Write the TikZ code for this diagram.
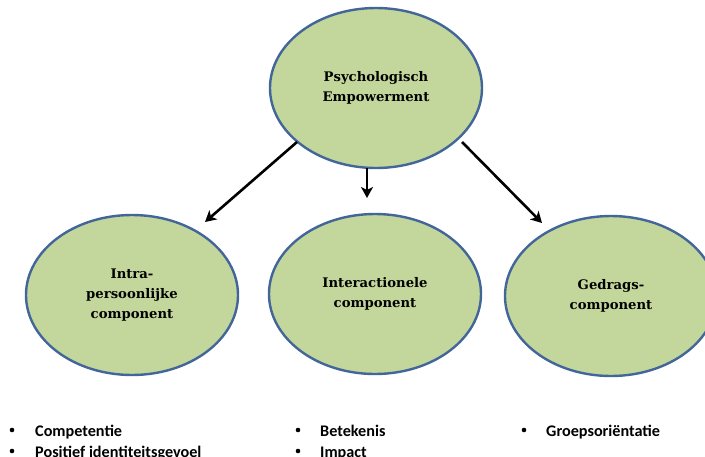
\documentclass[tikz,border=0pt]{standalone}
\usepackage{fontspec}
\setmainfont{DejaVu Serif}
\newfontfamily\bulletfont{Carlito}
\usetikzlibrary{shapes.geometric,arrows.meta}
\definecolor{ellfill}{HTML}{C3D69B}
\definecolor{elldraw}{HTML}{43669A}
\tikzset{
  ell/.style={ellipse, draw=elldraw, line width=2.4pt, fill=ellfill, inner sep=0pt,
    minimum width=212pt, minimum height=160pt,
    font=\fontsize{13.2}{20}\selectfont\bfseries, align=center},
  conn/.style={line width=2.6pt, -{Stealth[length=11pt,width=12pt,inset=3pt]}},
  bultext/.style={anchor=base west, inner sep=0pt, font=\bulletfont\fontsize{16.2}{20}\selectfont\bfseries},
  buldot/.style={circle, fill=black, inner sep=0pt, minimum size=4.6pt}
}
\begin{document}
\begin{tikzpicture}[x=1pt,y=-1pt]
\useasboundingbox (0,0) rectangle (705,456);
\clip (0,0) rectangle (705,456);
\fill[white] (0,0) rectangle (705,456);
\node[ell] (top) at (376,88) {Psychologisch\\Empowerment};
\node[ell] (left) at (132,295) {Intra-\\persoonlijke\\component};
\node[ell] (mid) at (375,294) {Interactionele\\component};
\node[ell] (right) at (611,296) {Gedrags-\\component};
\coordinate (la) at (297,142);
\coordinate (lb) at (205,222);
\coordinate (ma) at (367,168);
\coordinate (mb) at (367,198);
\coordinate (ra) at (462,142);
\coordinate (rb) at (542,223);
\draw[conn] (la) -- (lb);
\draw[conn] (ma) -- (mb);
\draw[conn] (ra) -- (rb);
\node[buldot] (d1) at (12,430) {};
\node[buldot] (d2) at (12,451) {};
\node[buldot] (d3) at (298,430) {};
\node[buldot] (d4) at (298,451) {};
\node[buldot] (d5) at (524,430) {};
\node[bultext] (b1) at (35,436) {Competentie};
\node[bultext] (b2) at (35,457) {Positief identiteitsgevoel};
\node[bultext] (b3) at (320,436) {Betekenis};
\node[bultext] (b4) at (320,457) {Impact};
\node[bultext] (b5) at (546,436) {Groepsoriëntatie};
\end{tikzpicture}
\end{document}
